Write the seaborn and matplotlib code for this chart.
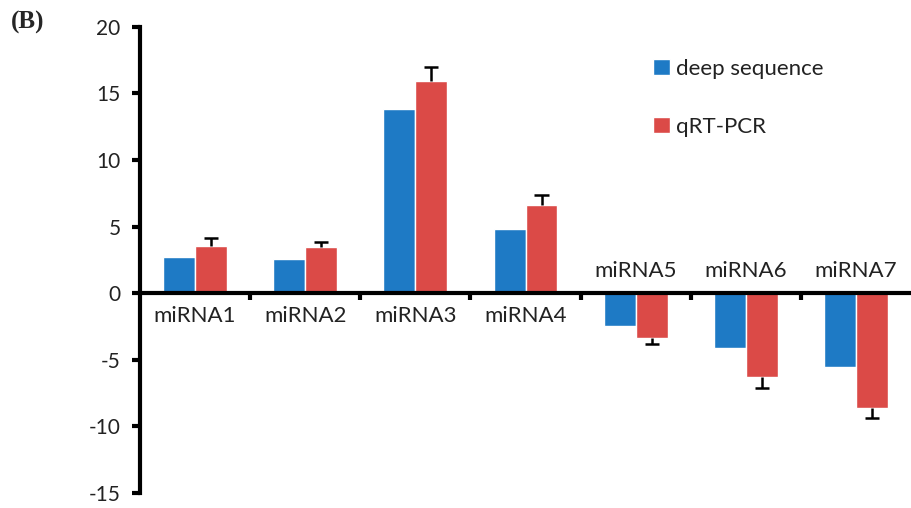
import numpy as np
import pandas as pd
import matplotlib
matplotlib.use("Agg")
import matplotlib.pyplot as plt
import seaborn as sns

# values
mirnas = ["miRNA1", "miRNA2", "miRNA3", "miRNA4", "miRNA5", "miRNA6", "miRNA7"]
deep_seq = [2.75, 2.6, 13.8, 4.8, -2.45, -4.15, -5.55]
qrt_pcr = [3.55, 3.45, 15.9, 6.65, -3.4, -6.3, -8.6]
qrt_err = [0.6, 0.4, 1.1, 0.7, 0.45, 0.8, 0.8]
yticks = [-15, -10, -5, 0, 5, 10, 15, 20]

df = pd.DataFrame({
    "miRNA": mirnas * 2,
    "value": deep_seq + qrt_pcr,
    "method": ["deep sequence"] * 7 + ["qRT-PCR"] * 7,
})

sns.set_style("white")
plt.rcParams["font.family"] = ["Lato", "DejaVu Sans"]

fig = plt.figure(figsize=(9.12, 5.08), dpi=100)
ax = fig.add_axes([0.1535, 0.03, 0.8455, 0.917])

sns.barplot(data=df, x="miRNA", y="value", hue="method",
            palette=["#1E7AC5", "#DB4A47"], width=0.58, saturation=1,
            errorbar=None, ax=ax)

# one-sided error bars on qRT-PCR bars (outward only)
red_bars = ax.containers[1]
xs = np.array([p.get_x() + p.get_width() / 2 for p in red_bars])
vals = np.array(qrt_pcr)
errs = np.array(qrt_err)
ends = vals + np.sign(vals) * errs
cap = red_bars[0].get_width() * 0.22
ax.vlines(xs, vals, ends, colors="black", linewidth=1.8)
ax.hlines(ends, xs - cap, xs + cap, colors="black", linewidth=1.8)

ax.set_xlim(-0.5, 6.5)
ax.set_ylim(-15, 20)
ax.set_yticks(yticks)
ax.set_yticklabels([str(t) for t in yticks], fontsize=15, color="#222222")
ax.set_xlabel("")
ax.set_ylabel("")

# spines: left spine plus x-axis at zero
for s in ["top", "right"]:
    ax.spines[s].set_visible(False)
ax.spines["left"].set_linewidth(3)
ax.spines["left"].set_color("black")
ax.spines["bottom"].set_position(("data", 0))
ax.spines["bottom"].set_linewidth(3)
ax.spines["bottom"].set_color("black")

ax.set_xticks(np.arange(0.5, 6.5, 1))
ax.set_xticklabels([])
ax.tick_params(axis="x", bottom=True, direction="out", length=5, width=3, colors="black")
ax.tick_params(axis="y", left=True, direction="out", length=6, width=3, color="black", pad=8)

for i, (name, v) in enumerate(zip(mirnas, deep_seq)):
    if v >= 0:
        ax.text(i, -1.0, name, ha="center", va="top", fontsize=16, color="#222222")
    else:
        ax.text(i, 0.9, name, ha="center", va="bottom", fontsize=16, color="#222222")

ax.legend(loc="upper left", bbox_to_anchor=(0.651, 0.955), frameon=False,
          fontsize=16, labelspacing=1.7, handlelength=0.75, handleheight=0.75,
          handletextpad=0.3, borderpad=0, labelcolor="#222222")

fig.text(0.012, 0.955, "(B)", fontsize=18, fontweight="bold",
         family="Liberation Serif", va="center")

fig.savefig("out.png", dpi=100)
